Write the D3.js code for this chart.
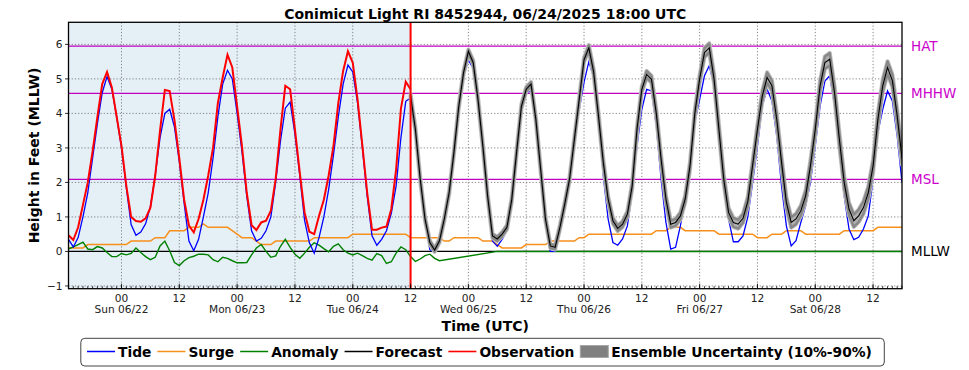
<!DOCTYPE html>
<html><head><meta charset="utf-8">
<script src="https://cdn.jsdelivr.net/npm/d3@7"></script>
<style>body{margin:0;background:#fff} svg{display:block} text{font-family:"DejaVu Sans",sans-serif}</style>
</head><body><svg id="c" width="969" height="370"></svg>
<script>
// ---------------- data (hourly, starting 2025-06-21 13:00 UTC) ----------------
const startTime = "2025-06-21T13:00:00Z";
const nowTime = "2025-06-24T12:00:00Z";
const titleText = "Conimicut Light RI 8452944, 06/24/2025 18:00 UTC";

const tide = [
 0.35,0.13,0.4,1.0,1.7,2.7,3.7,4.6,5.07,4.7,3.9,3.0,
 1.85,0.78,0.47,0.56,0.8,1.3,2.2,3.3,4.0,4.12,3.6,2.6,
 1.4,0.3,0.02,0.35,1.0,1.7,2.7,3.9,4.85,5.25,5.0,4.0,
 2.9,1.6,0.6,0.3,0.38,0.6,1.0,2.0,3.2,4.15,4.33,3.4,
 2.2,0.9,0.25,-0.05,0.4,1.0,1.8,2.8,3.9,4.85,5.4,5.2,
 4.3,3.0,1.6,0.45,0.18,0.35,0.6,1.1,1.9,3.3,4.35,4.45,
 3.4,2.0,0.85,0.05,-0.03,0.25,0.85,1.6,2.75,4.05,5.05,5.55,
 5.3,4.3,2.95,1.5,0.3,0.15,0.35,0.6,1.4,2.75,4.05,4.6,
 4.65,3.7,2.25,0.8,0.0,0.0,0.55,1.2,1.95,3.1,4.1,4.9,
 5.5,5.04,3.83,2.19,0.94,0.26,0.18,0.36,0.74,1.7,3.06,4.12,
 4.7,4.65,3.64,2.1,0.84,0.07,0.12,0.74,1.52,2.58,3.74,4.41,
 5.09,5.38,4.8,3.54,2.1,0.94,0.28,0.28,0.45,1.0,2.0,3.06,
 4.22,4.7,4.36,3.35,1.9,0.74,0.16,0.31,0.84,1.32,2.0,3.06,
 4.22,4.94,5.09,4.22,2.87,1.61,0.65,0.34,0.41,0.65,1.03,2.1,
 3.45,4.12,4.65,4.36,3.35,2.0
];
const surge = [
 0.1,0.1,0.1,0.1,0.2,0.2,0.2,0.2,0.2,0.2,0.2,0.2,
 0.2,0.3,0.3,0.3,0.3,0.3,0.4,0.4,0.4,0.6,0.6,0.6,
 0.6,0.7,0.7,0.7,0.8,0.7,0.7,0.7,0.7,0.7,0.6,0.5,
 0.4,0.4,0.4,0.3,0.2,0.2,0.2,0.3,0.3,0.3,0.3,0.3,
 0.3,0.3,0.3,0.4,0.4,0.4,0.4,0.4,0.4,0.4,0.4,0.5,
 0.5,0.5,0.5,0.5,0.5,0.5,0.5,0.5,0.5,0.5,0.5,0.4,
 0.4,0.4,0.4,0.4,0.4,0.4,0.3,0.3,0.4,0.4,0.4,0.4,
 0.4,0.4,0.3,0.3,0.3,0.2,0.1,0.1,0.1,0.1,0.1,0.2,
 0.2,0.2,0.2,0.2,0.3,0.3,0.3,0.3,0.3,0.3,0.4,0.4,
 0.5,0.5,0.5,0.5,0.5,0.5,0.5,0.5,0.5,0.5,0.5,0.5,
 0.5,0.5,0.6,0.6,0.6,0.7,0.7,0.7,0.6,0.6,0.6,0.6,
 0.6,0.6,0.6,0.5,0.5,0.5,0.5,0.5,0.5,0.5,0.5,0.4,
 0.4,0.4,0.5,0.5,0.5,0.6,0.6,0.6,0.6,0.5,0.5,0.5,
 0.5,0.5,0.5,0.5,0.5,0.6,0.6,0.6,0.6,0.6,0.6,0.6,
 0.7,0.7,0.7,0.7,0.7,0.7
];
const anomaly = [
 0.07,0.13,0.2,0.27,0.07,0.05,0.14,0.1,-0.03,-0.15,-0.15,-0.06,
 -0.1,-0.06,0.1,-0.03,-0.15,-0.24,-0.17,0.16,0.3,0.02,-0.32,-0.41,
 -0.27,-0.18,-0.14,-0.08,-0.08,-0.1,-0.24,-0.3,-0.17,-0.2,-0.27,-0.33,
 -0.33,-0.32,-0.1,0.1,0.2,0.0,-0.17,-0.13,0.15,0.35,0.12,-0.08,
 -0.2,-0.05,0.12,0.25,0.18,0.08,-0.01,0.15,0.22,0.05,-0.05,-0.1,
 -0.05,-0.12,-0.2,-0.25,-0.06,-0.12,-0.35,-0.3,-0.05,0.13,0.05,-0.15,
 -0.29,-0.22,-0.12,-0.08,-0.2,-0.27,null,null,null,null,null,null,
 null,null,null,null,null,0,0,0,0,0,0,0,
 0,0,0,0,0,0,0,0,0,0,0,0,
 0,0,0,0,0,0,0,0,0,0,0,0,
 0,0,0,0,0,0,0,0,0,0,0,0,
 0,0,0,0,0,0,0,0,0,0,0,0,
 0,0,0,0,0,0,0,0,0,0,0,0,
 0,0,0,0,0,0,0,0,0,0,0,0,
 0,0,0,0,0,0
];
// observation: from startTime up to nowTime
const observation = [
 0.47,0.33,0.7,1.35,2.0,2.9,3.9,4.85,5.2,4.75,3.9,3.06,
 1.9,1.0,0.88,0.86,0.96,1.27,2.2,3.5,4.68,4.65,3.8,2.7,
 1.5,0.75,0.55,0.94,1.5,2.2,3.0,4.3,5.04,5.7,5.33,4.2,
 3.06,1.7,0.76,0.62,0.84,0.89,1.18,2.1,3.54,4.8,4.7,3.54,
 2.29,1.13,0.57,0.5,1.03,1.5,2.2,3.06,4.3,5.23,5.8,5.47,
 4.4,3.06,1.7,0.63,0.63,0.69,0.72,1.23,2.38,4.14,4.92,4.7
];
// forecast & ensemble band: from nowTime to end
const forecast = [
 4.5,3.54,2.1,0.94,0.26,0.04,0.31,0.94,1.7,2.87,4.2,5.18,
 5.8,5.47,4.4,3.06,1.6,0.45,0.36,0.5,0.7,1.5,2.87,4.2,
 4.7,4.85,3.83,2.38,0.94,0.16,0.12,0.7,1.37,2.1,3.25,4.4,
 5.55,5.9,5.2,3.93,2.58,1.52,0.89,0.67,0.79,1.08,1.9,3.54,
 4.7,5.13,4.99,4.0,2.67,1.52,0.79,0.84,1.03,1.52,2.48,4.0,
 5.0,5.76,5.9,4.99,3.54,2.1,1.13,0.84,0.79,0.96,1.45,2.5,
 3.54,4.5,5.04,4.8,3.83,2.58,1.42,0.84,0.94,1.18,1.61,2.48,
 3.54,4.8,5.47,5.57,4.6,3.25,2.0,1.23,0.89,1.03,1.27,1.7,
 2.48,3.83,4.8,5.33,4.95,3.93,2.7
];
const ensLow = [
 4.45,3.49,2.05,0.89,0.21,-0.01,0.26,0.89,1.65,2.82,4.15,5.13,
 5.75,5.41,4.34,3.0,1.54,0.39,0.3,0.44,0.64,1.44,2.81,4.14,
 4.64,4.79,3.77,2.32,0.88,0.1,0.06,0.64,1.31,2.04,3.19,4.34,
 5.49,5.82,5.12,3.85,2.5,1.44,0.81,0.59,0.71,1.0,1.82,3.46,
 4.62,5.03,4.89,3.9,2.57,1.42,0.69,0.74,0.93,1.42,2.38,3.9,
 4.9,5.63,5.77,4.86,3.41,1.97,1.0,0.71,0.66,0.83,1.32,2.37,
 3.41,4.35,4.89,4.65,3.68,2.43,1.27,0.69,0.79,1.03,1.46,2.33,
 3.39,4.65,5.29,5.39,4.42,3.07,1.82,1.05,0.71,0.85,1.09,1.52,
 2.3,3.65,4.62,5.15,4.77,3.75,2.52
];
const ensHigh = [
 4.55,3.59,2.15,0.99,0.31,0.09,0.36,0.99,1.75,2.92,4.25,5.23,
 5.85,5.53,4.46,3.12,1.66,0.51,0.42,0.56,0.76,1.56,2.93,4.26,
 4.76,4.91,3.89,2.44,1.0,0.22,0.18,0.76,1.43,2.16,3.31,4.46,
 5.61,5.98,5.28,4.01,2.66,1.6,0.97,0.75,0.87,1.16,1.98,3.62,
 4.78,5.23,5.09,4.1,2.77,1.62,0.89,0.94,1.13,1.62,2.58,4.1,
 5.1,5.89,6.03,5.12,3.67,2.23,1.26,0.97,0.92,1.09,1.58,2.63,
 3.67,4.65,5.19,4.95,3.98,2.73,1.57,0.99,1.09,1.33,1.76,2.63,
 3.69,4.95,5.65,5.75,4.78,3.43,2.18,1.41,1.07,1.21,1.45,1.88,
 2.66,4.01,4.98,5.51,5.13,4.11,2.88
];
const datumNames = ["HAT", "MHHW", "MSL", "MLLW"];
const datumValues = [5.95, 4.58, 2.09, 0];
const datumColors = ["#c000c0", "#c000c0", "#c000c0", "#000000"];
const yTicks = [-1, 0, 1, 2, 3, 4, 5, 6];
const legendLabels = ["Tide", "Surge", "Anomaly", "Forecast", "Observation", "Ensemble Uncertainty (10%-90%)"];
const legendColors = ["#0000ff", "#f8901c", "#008000", "#000000", "#ff0000", "#808080"];

// ---------------- chart ----------------
const svg = d3.select("#c");
const L = 68.5, R = 902, T = 22.3, B = 288.7;
const t0 = new Date(startTime).getTime();
const HR = 3600e3;
const timeAt = i => new Date(t0 + i * HR);
const tNow = new Date(nowTime);
const fStart = Math.round((tNow - t0) / HR);

const x = d3.scaleUtc().domain([timeAt(0), timeAt(tide.length - 1)]).range([L, R]);
const y = d3.scaleLinear().domain([-1.08, 6.64]).range([B, T]);

svg.append("defs").append("clipPath").attr("id", "clip")
  .append("rect").attr("x", L).attr("y", T).attr("width", R - L).attr("height", B - T);

// shaded observation period
svg.append("rect").attr("x", x(timeAt(0))).attr("y", T)
  .attr("width", x(tNow) - x(timeAt(0))).attr("height", B - T).attr("fill", "#e4eff6");

// grid
const majorTicks = x.ticks(d3.utcHour.every(12));
const grid = svg.append("g").attr("stroke", "#666").attr("stroke-width", 0.8).attr("stroke-dasharray", "1.2,2");
majorTicks.forEach(d => grid.append("line").attr("x1", x(d)).attr("x2", x(d)).attr("y1", T).attr("y2", B));
yTicks.forEach(v => grid.append("line").attr("x1", L).attr("x2", R).attr("y1", y(v)).attr("y2", y(v)));

const plot = svg.append("g").attr("clip-path", "url(#clip)");

// datum lines
datumValues.forEach((v, i) => {
  plot.append("line").attr("x1", L).attr("x2", R).attr("y1", y(v)).attr("y2", y(v))
    .attr("stroke", datumColors[i]).attr("stroke-width", 1.3);
});

const lineGen = d3.line().x(d => x(d.t)).y(d => y(d.v));
const series = (arr, off) => arr.map((v, i) => ({ t: timeAt(i + off), v })).filter(d => d.v !== null);

plot.append("path").datum(series(surge, 0)).attr("d", lineGen)
  .attr("fill", "none").attr("stroke", legendColors[1]).attr("stroke-width", 1.5);
plot.append("path").datum(series(anomaly, 0)).attr("d", lineGen)
  .attr("fill", "none").attr("stroke", legendColors[2]).attr("stroke-width", 1.4);
plot.append("path").datum(series(tide, 0)).attr("d", lineGen)
  .attr("fill", "none").attr("stroke", legendColors[0]).attr("stroke-width", 1.3);

// ensemble band
const band = ensLow.map((v, i) => ({ t: timeAt(i + fStart), lo: v, hi: ensHigh[i] }));
const areaGen = d3.area().x(d => x(d.t)).y0(d => y(d.lo)).y1(d => y(d.hi));
plot.append("path").datum(band).attr("d", areaGen)
  .attr("fill", "none").attr("stroke", "#c4c4c4").attr("stroke-width", 4.2).attr("stroke-linejoin", "round");
plot.append("path").datum(band).attr("d", areaGen)
  .attr("fill", "#b0b0b0").attr("stroke", "#888888").attr("stroke-width", 2.5).attr("stroke-linejoin", "round");

plot.append("path").datum(series(forecast, fStart)).attr("d", lineGen)
  .attr("fill", "none").attr("stroke", "#000").attr("stroke-width", 1.1);
plot.append("path").datum(series(observation, 0)).attr("d", lineGen)
  .attr("fill", "none").attr("stroke", legendColors[4]).attr("stroke-width", 2);

// now line
svg.append("line").attr("x1", x(tNow)).attr("x2", x(tNow)).attr("y1", T).attr("y2", B)
  .attr("stroke", "#ff0000").attr("stroke-width", 2);

// frame
svg.append("rect").attr("x", L).attr("y", T).attr("width", R - L).attr("height", B - T)
  .attr("fill", "none").attr("stroke", "#000").attr("stroke-width", 1.3);

// x ticks (inward)
const ticksG = svg.append("g").attr("stroke", "#000").attr("stroke-width", 0.8);
x.ticks(d3.utcHour.every(1)).forEach(d => {
  ticksG.append("line").attr("x1", x(d)).attr("x2", x(d)).attr("y1", B).attr("y2", B - 2.5);
});
majorTicks.forEach(d => {
  ticksG.append("line").attr("x1", x(d)).attr("x2", x(d)).attr("y1", B).attr("y2", B - 5);
});
const fmtDay = d3.utcFormat("%a %m/%d");
const xl = svg.append("g").attr("font-size", "10.6px").attr("fill", "#222").attr("text-anchor", "middle");
majorTicks.forEach(d => {
  const h = d.getUTCHours();
  xl.append("text").attr("x", x(d)).attr("y", 302).text(h === 0 ? "00" : "12");
  if (h === 0) xl.append("text").attr("x", x(d)).attr("y", 313).text(fmtDay(d));
});

// y ticks
yTicks.forEach(v => {
  ticksG.append("line").attr("x1", L - 3.5).attr("x2", L).attr("y1", y(v)).attr("y2", y(v));
  svg.append("text").attr("x", L - 6).attr("y", y(v)).attr("dy", "0.36em")
    .attr("text-anchor", "end").attr("font-size", "10.6px").attr("fill", "#222")
    .text(v < 0 ? "\u2212" + Math.abs(v) : String(v));
});

// datum labels
datumNames.forEach((n, i) => {
  svg.append("text").attr("x", 911).attr("y", y(datumValues[i]) + 4.5)
    .attr("font-size", "13.5px").attr("fill", i < 3 ? "#cc00cc" : "#000").text(n);
});

// titles
svg.append("text").attr("x", (L + R) / 2).attr("y", 18.5).attr("text-anchor", "middle")
  .attr("font-size", "14px").attr("font-weight", "bold").text(titleText);
svg.append("text").attr("transform", `translate(38.5,${(T + B) / 2}) rotate(-90)`)
  .attr("text-anchor", "middle").attr("font-size", "14px").attr("font-weight", "bold")
  .text("Height in Feet (MLLW)");
svg.append("text").attr("x", (L + R) / 2).attr("y", 331).attr("text-anchor", "middle")
  .attr("font-size", "14px").attr("font-weight", "bold").text("Time (UTC)");

// legend
const lg = svg.append("g");
lg.append("rect").attr("x", 80.8).attr("y", 338.3).attr("width", 803.5).attr("height", 27.7)
  .attr("rx", 4).attr("fill", "#fff").attr("stroke", "#444").attr("stroke-width", 1);
let lx = 87;
const ly = 351.5;
legendLabels.forEach((lab, i) => {
  if (i < 5) {
    lg.append("line").attr("x1", lx).attr("x2", lx + 28).attr("y1", ly).attr("y2", ly)
      .attr("stroke", legendColors[i]).attr("stroke-width", i === 4 ? 1.6 : 1.5);
  } else {
    lg.append("rect").attr("x", lx).attr("y", ly - 6).attr("width", 28).attr("height", 12)
      .attr("fill", "#808080").attr("stroke", "#a8a8a8").attr("stroke-width", 1);
  }
  const tx = lg.append("text").attr("x", lx + 31).attr("y", 356.5)
    .attr("font-size", "13.8px").attr("font-weight", "bold").text(lab);
  lx = lx + 31 + tx.node().getComputedTextLength() + 6;
});
</script></body></html>
